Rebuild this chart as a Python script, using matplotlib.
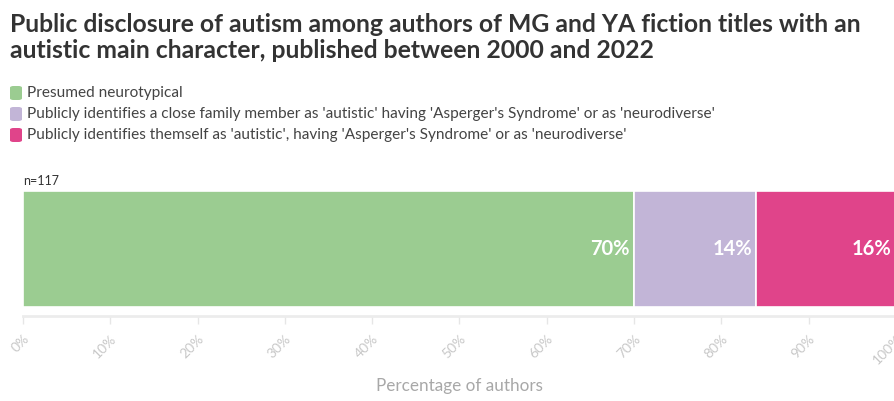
import matplotlib
matplotlib.use("Agg")
import matplotlib.pyplot as plt
from matplotlib.patches import FancyBboxPatch

plt.rcParams['font.family'] = ['Lato', 'DejaVu Sans']

categories = [
    "Presumed neurotypical",
    "Publicly identifies a close family member as 'autistic' having 'Asperger's Syndrome' or as 'neurodiverse'",
    "Publicly identifies themself as 'autistic', having 'Asperger's Syndrome' or as 'neurodiverse'",
]
values = [70, 14, 16]
colors = ["#9bcc91", "#c2b5d7", "#e0448a"]
tick_values = list(range(0, 101, 10))
tick_labels = [f"{t}%" for t in tick_values]
row_label = "n=117"
title_lines = [
    "Public disclosure of autism among authors of MG and YA fiction titles with an",
    "autistic main character, published between 2000 and 2022",
]

W, H = 895, 401
fig = plt.figure(figsize=(W / 100, H / 100), dpi=100)

# plot area in pixel coordinates
x0, x1 = 23, 896
y_top, y_bot, y_axis = 191, 307, 316
ax = fig.add_axes([x0 / W, 1 - y_axis / H, (x1 - x0) / W, (y_axis - y_top) / H])
ax.set_xlim(0, 100)
ax.set_ylim(-0.5 - (y_axis - y_bot) / (y_bot - y_top), 0.5)

left = 0
for v, c in zip(values, colors):
    ax.barh(0, v, left=left, height=1.0, color=c, edgecolor="white", linewidth=1.2)
    ax.text(left + v - 0.5, 0.0, f"{v}%", ha="right", va="center", color="white",
            fontsize=14.5, fontweight="bold")
    left += v

for s in ["top", "right", "left"]:
    ax.spines[s].set_visible(False)
ax.spines["bottom"].set_color("#ececec")
ax.spines["bottom"].set_linewidth(2)
ax.set_yticks([])
ax.set_xticks(tick_values)
ax.set_xticklabels(tick_labels, rotation=45, ha="right", rotation_mode="anchor",
                   color="#c8c8c8", fontsize=10)
ax.tick_params(axis="x", length=6, width=1, color="#e6e6e6", pad=6)
ax.set_xlabel("Percentage of authors", color="#a8a8a8", fontsize=12.3, va="center")
ax.xaxis.set_label_coords((459 - x0) / (x1 - x0), -(386 - y_axis) / (y_axis - y_top))

# row label
fig.text(x0 / W, 1 - 181 / H, row_label, ha="left", va="center", fontsize=9, color="#333333")

# title
for i, line in enumerate(title_lines):
    fig.text(10 / W, 1 - (24 + 26 * i) / H, line, ha="left", va="center",
             fontsize=17.8, fontweight="bold", color="#333333")

# legend
for i, (cat, c) in enumerate(zip(categories, colors)):
    yc = 93 + i * 21
    box = FancyBboxPatch((10 / W, 1 - (yc + 7) / H), 12 / W, 14 / H,
                         boxstyle="round,pad=0,rounding_size=0.004",
                         transform=fig.transFigure, facecolor=c, edgecolor="none")
    fig.patches.append(box)
    fig.text(27 / W, 1 - yc / H, cat, ha="left", va="center", fontsize=11.1, color="#444444")

fig.savefig("out.png", dpi=100)
